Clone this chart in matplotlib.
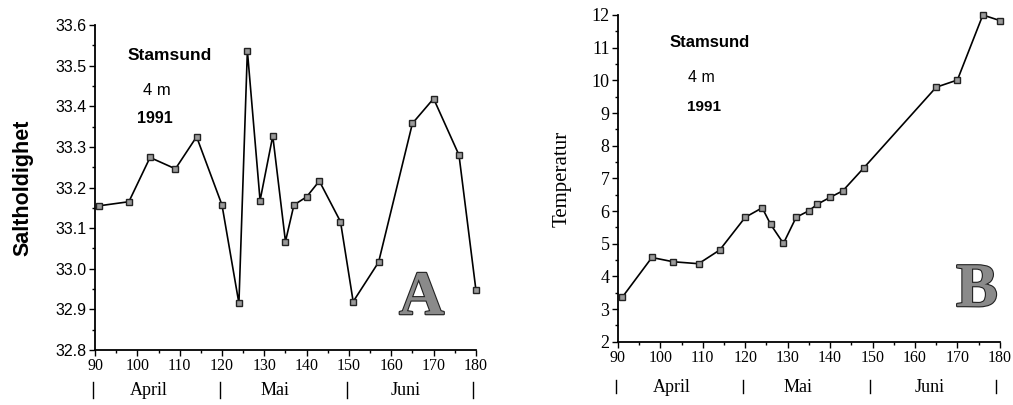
import matplotlib
matplotlib.use('Agg')
import matplotlib.pyplot as plt
import matplotlib.patheffects as pe
from matplotlib.ticker import MultipleLocator
import numpy as np

# salinity, panel A
day_a = [91, 98, 103, 109, 114, 120, 124, 126, 129, 132, 135, 137, 140, 143,
         148, 151, 157, 165, 170, 176, 180]
salt = [33.155, 33.165, 33.274, 33.246, 33.325, 33.157, 32.915, 33.537, 33.168,
        33.327, 33.067, 33.157, 33.177, 33.216, 33.116, 32.919, 33.016, 33.358,
        33.419, 33.28, 32.948]

# temperature, panel B
day_b = [91, 98, 103, 109, 114, 120, 124, 126, 129, 132, 135, 137, 140, 143,
         148, 165, 170, 176, 180]
temp = [3.36, 4.58, 4.45, 4.39, 4.81, 5.81, 6.1, 5.59, 5.01, 5.81, 6.01, 6.21,
        6.42, 6.62, 7.33, 9.79, 10.01, 12.0, 11.83]

month_names = ['April', 'Mai', 'Juni']
month_centers = [102.7, 132.4, 163.5]
month_edges = [89.5, 119.5, 149.5, 179.2]

SERIF = 'Liberation Serif'
SANS = 'Liberation Sans'


def style_axes(ax, ymaj, ymin):
    for s in ['top', 'right']:
        ax.spines[s].set_visible(False)
    for s in ['left', 'bottom']:
        ax.spines[s].set_linewidth(1.3)
    ax.set_xlim(90, 180)
    ax.set_xticks(range(90, 181, 10))
    ax.xaxis.set_minor_locator(MultipleLocator(5))
    ax.yaxis.set_major_locator(MultipleLocator(ymaj))
    ax.yaxis.set_minor_locator(MultipleLocator(ymin))
    ax.tick_params(axis='both', which='major', direction='out', length=4, width=1, pad=2)
    ax.tick_params(axis='both', which='minor', direction='out', length=2.5, width=1)
    for lab in ax.get_xticklabels():
        lab.set_fontfamily(SERIF)
        lab.set_fontsize(11.5)


def months(ax, ybar, ytxt):
    tr = ax.get_xaxis_transform()
    for e in month_edges:
        ax.plot([e, e], ybar, color='black', lw=1, transform=tr, clip_on=False)
    for name, c in zip(month_names, month_centers):
        ax.text(c, ytxt, name, transform=tr, ha='center', va='center',
                fontfamily=SERIF, fontsize=13)


def big_letter(ax, x, y, s):
    t = ax.text(x, y, s, ha='center', va='center', fontfamily=SERIF,
                fontweight='bold', fontsize=45, color='#8a8a8a')
    t.set_path_effects([pe.withStroke(linewidth=1.6, foreground='#222222')])


fig = plt.figure(figsize=(10.13, 4.05), dpi=100)

line_kw = dict(color='black', lw=1.2, marker='s', markersize=4.5,
               markerfacecolor='#9a9a9a', markeredgecolor='#222222',
               markeredgewidth=1, clip_on=False)

# Panel A
ax1 = fig.add_axes([0.0938, 0.136, 0.376, 0.802])
ax1.plot(day_a, salt, **line_kw)
ax1.set_ylim(32.8, 33.6)
style_axes(ax1, 0.1, 0.05)
ax1.set_yticks(np.arange(32.8, 33.61, 0.1))
ax1.set_yticklabels(['%.1f' % v for v in np.arange(32.8, 33.61, 0.1)],
                    fontfamily=SANS, fontsize=11.5)
ax1.set_ylabel('Saltholdighet', fontfamily=SANS, fontweight='bold', fontsize=15.5,
               labelpad=16)
ax1.text(107.7, 33.526, 'Stamsund', ha='center', va='center', fontfamily=SANS,
         fontweight='bold', fontsize=12.5)
ax1.text(104.6, 33.44, '4 m', ha='center', va='center', fontfamily=SANS, fontsize=12)
ax1.text(104.2, 33.37, '1991', ha='center', va='center', fontfamily=SANS,
         fontweight='bold', fontsize=11.5)
big_letter(ax1, 167.2, 32.925, 'A')
months(ax1, [-0.098, -0.148], -0.125)

# Panel B
ax2 = fig.add_axes([0.610, 0.156, 0.377, 0.807])
ax2.plot(day_b, temp, **line_kw)
ax2.set_ylim(2, 12)
style_axes(ax2, 1, 0.5)
for lab in ax2.get_yticklabels():
    lab.set_fontfamily(SERIF)
    lab.set_fontsize(13)
ax2.set_ylabel('Temperatur', fontfamily=SERIF, fontsize=15, labelpad=14)
ax2.text(111.6, 11.15, 'Stamsund', ha='center', va='center', fontfamily=SANS,
         fontweight='bold', fontsize=12)
ax2.text(109.7, 10.09, '4 m', ha='center', va='center', fontfamily=SANS, fontsize=11.5)
ax2.text(110.2, 9.19, '1991', ha='center', va='center', fontfamily=SANS,
         fontweight='bold', fontsize=11)
big_letter(ax2, 174.6, 3.55, 'B')
months(ax2, [-0.116, -0.156], -0.14)

fig.savefig('out.png', dpi=100)
